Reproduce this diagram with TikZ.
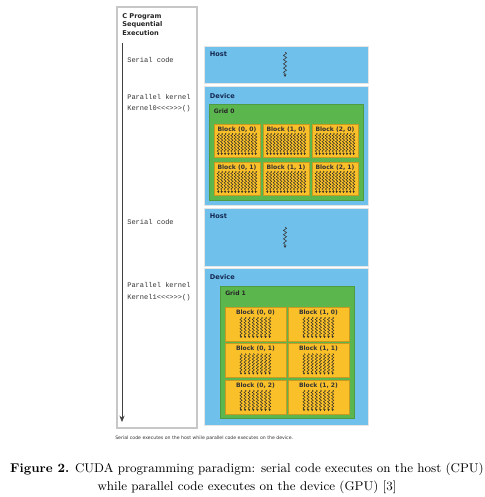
\documentclass[tikz,border=0pt]{standalone}
\usepackage{fontspec}
\newfontfamily\diafont{DejaVu Sans}
\newfontfamily\codefont{Liberation Mono}
\usetikzlibrary{arrows.meta, positioning, fit, decorations.pathmorphing}
\definecolor{hostblue}{RGB}{112,192,236}
\definecolor{gridgreen}{RGB}{92,182,78}
\definecolor{blockgold}{RGB}{250,192,42}
\definecolor{navytext}{RGB}{20,40,80}
\tikzset{
  progbox/.style={rectangle,draw=black!22,fill=white,line width=0.8pt,inner sep=0pt},
  hostbox/.style={rectangle,draw=black!10,fill=hostblue,line width=0.7pt,inner sep=0pt},
  gridbox/.style={rectangle,draw=gridgreen!85!black,fill=gridgreen,line width=0.3pt,inner sep=0pt},
  blockbox/.style={rectangle,draw=blockgold!80!black,fill=blockgold,line width=0.4pt,inner sep=0pt},
  lbl/.style={font=\diafont\bfseries\fontsize{4.7}{5.5}\selectfont,inner sep=0pt,text=navytext},
  blklbl/.style={font=\diafont\bfseries\fontsize{4.3}{5}\selectfont,inner sep=0pt,text=black!80},
  code/.style={font=\codefont\fontsize{5}{6}\selectfont,inner sep=0pt,anchor=west,text=black!80},
  thread/.style={line width=0.3pt,draw=black!85,decorate,
    decoration={snake,segment length=2.2pt,amplitude=0.8pt,post length=1.3pt},
    -{Stealth[length=1.4pt,width=1.6pt]}},
  hthread/.style={line width=0.4pt,draw=black!80,decorate,
    decoration={snake,segment length=3pt,amplitude=1.1pt,post length=2pt},
    -{Stealth[length=2pt,width=2pt]}},
  ar/.style={-{Stealth[length=1.6mm,width=1.3mm]},line width=0.55pt,draw=black!75}
}

\begin{document}
\begin{tikzpicture}[x=0.025cm,y=-0.025cm]
\path[fill=white] (0,0) rectangle (484,497);
\useasboundingbox (0,0) rectangle (484,497);
\node[progbox,fit={(117,7) (197,428)}] (prog) {};
\node[lbl,text=black!85,align=left,anchor=north west,font=\diafont\bfseries\fontsize{4.7}{6.1}\selectfont] (title) at (122,13) {C Program\\Sequential\\Execution};
\coordinate (tstart) at (122,43);
\coordinate (tend) at (122,422);
\draw[ar] (tstart) -- (tend);
\node[code] (ser1) at (127,60) {Serial code};
\node[code] (par1) at (127,97) {Parallel kernel};
\node[code] (ker1) at (127,109) {Kernel0<<<>>>()};
\node[code] (ser2) at (127,222) {Serial code};
\node[code] (par2) at (127,285) {Parallel kernel};
\node[code] (ker2) at (127,298) {Kernel1<<<>>>()};

\node[hostbox,fit={(204,46) (368,83)}] (host1) {};
\node[lbl,below right=1.5mm and 1.5mm of host1.north west,anchor=north west] (hostlbl1) {Host};
\draw[hthread] (285,52) -- (285,77);
\node[hostbox,fit={(204,86) (368,205)}] (dev1) {};
\node[lbl,below right=1.8mm and 1.5mm of dev1.north west,anchor=north west] (devlbl1) {Device};
\node[gridbox,fit={(209,104) (363,200)}] (grid0) {};
\node[blklbl,text=black!85,below right=1.1mm and 1.2mm of grid0.north west,anchor=north west] (gridlbl0) {Grid 0};
\foreach \c in {0,1,2}{
  \foreach \r in {0,1}{
    \node[blockbox,fit={({214+49*\c},{124+38*\r}) ({260+49*\c},{157+38*\r})}] (blkA\c\r) {};
    \node[blklbl,below=0.7mm of blkA\c\r.north] (blkAlbl\c\r) {Block (\c, \r)};
    \foreach \t in {0,...,11}
      \draw[thread] ({218.3+49*\c+3.4*\t},{133+38*\r}) -- ++(0,22);
  }
}

\node[hostbox,fit={(204,208) (368,266)}] (host2) {};
\node[lbl,below right=1.5mm and 1.5mm of host2.north west,anchor=north west] (hostlbl2) {Host};
\draw[hthread] (285,227) -- (285,248);
\node[hostbox,fit={(204,268) (368,425)}] (dev2) {};
\node[lbl,below right=1.7mm and 1.5mm of dev2.north west,anchor=north west] (devlbl2) {Device};
\node[gridbox,fit={(220,286) (354,418)}] (grid1) {};
\node[blklbl,text=black!85,below right=1.1mm and 1.3mm of grid1.north west,anchor=north west] (gridlbl1) {Grid 1};
\foreach \c in {0,1}{
  \foreach \r in {0,1,2}{
    \node[blockbox,fit={({225+63*\c},{307+36.5*\r}) ({286+63*\c},{341+36.5*\r})}] (blkB\c\r) {};
    \node[blklbl,below=0.7mm of blkB\c\r.north] (blkBlbl\c\r) {Block (\c, \r)};
    \foreach \t in {0,...,7}
      \draw[thread] ({241+63*\c+4.1*\t},{317+36.5*\r}) -- ++(0,21);
  }
}

\node[anchor=west,inner sep=0pt,font=\diafont\fontsize{3.3}{4}\selectfont,text=black!80] (note) at (115,438) {Serial code executes on the host while parallel code executes on the device.};
\node[align=center,inner sep=0pt,font=\fontsize{9}{12.8}\selectfont] (caption) at (247,478) {\textbf{Figure 2.} CUDA programming paradigm: serial code executes on the host (CPU)\\while parallel code executes on the device (GPU) [3]};
\end{tikzpicture}
\end{document}
